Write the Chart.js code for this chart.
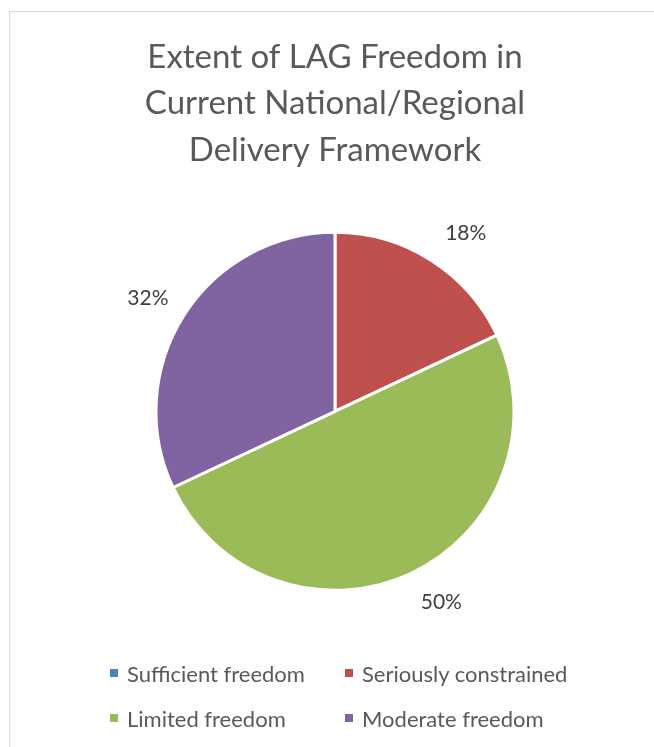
<!DOCTYPE html>
<html>
<head>
<meta charset="utf-8">
<script src="https://cdn.jsdelivr.net/npm/chart.js@4"></script>
<style>
    body { margin: 0; background: #fff; }
    #wrap { position: relative; width: 654px; height: 747px; overflow: hidden; }
    #frame { position: absolute; left: 9px; top: 11px; width: 700px; height: 800px; border-left: 1px solid #d9d9d9; border-top: 1px solid #d9d9d9; }
    canvas { position: absolute; left: 0; top: 0; }
    #legend { position: absolute; left: 110px; top: 659px; display: grid; grid-template-columns: 235px auto; row-gap: 17px; font-family: Lato, sans-serif; font-size: 22px; color: #595959; }
    .item { display: flex; align-items: center; height: 28px; }
    .box { width: 8px; height: 8px; margin-right: 9px; }
</style>
</head>
<body>
<div id="wrap">
    <div id="frame"></div>
    <canvas id="chart" width="654" height="747"></canvas>
    <div id="legend"></div>
</div>
<script>
// Chart data
const categories = ['Sufficient freedom', 'Seriously constrained', 'Limited freedom', 'Moderate freedom'];
const shares = [0, 18, 50, 32];
const colors = ['#4f81bd', '#c0504d', '#9bbb59', '#8064a2'];
const titleLines = ['Extent of LAG Freedom in', 'Current National/Regional', 'Delivery Framework'];

// Percent labels just outside the slices (box edge placed next to the arc)
const outsideLabels = {
    id: 'outsideLabels',
    afterDatasetsDraw(chart) {
        const ctx = chart.ctx;
        const meta = chart.getDatasetMeta(0);
        ctx.save();
        ctx.font = '21px Lato';
        ctx.fillStyle = '#404040';
        ctx.textAlign = 'center';
        ctx.textBaseline = 'middle';
        meta.data.forEach((arc, i) => {
            if (!shares[i]) return;
            const text = shares[i] + '%';
            const w = ctx.measureText(text).width;
            const h = 20;
            const mid = (arc.startAngle + arc.endAngle) / 2;
            const cos = Math.cos(mid), sin = Math.sin(mid);
            const r = arc.outerRadius + 22;
            // labels on the right side sit a little further out
            const nudge = cos > 0 ? 12 : 0;
            const x = arc.x + cos * r + cos * w / 2 + nudge;
            const y = arc.y + sin * r + sin * h / 2;
            ctx.fillText(text, x, y);
        });
        ctx.restore();
    }
};

new Chart(document.getElementById('chart'), {
    type: 'pie',
    data: {
        labels: categories,
        datasets: [{
            data: shares,
            backgroundColor: colors,
            borderColor: '#ffffff',
            borderWidth: 3,
            radius: 179
        }]
    },
    options: {
        responsive: false,
        animation: false,
        layout: { padding: { left: 16, top: 0, right: 0, bottom: 98 } },
        plugins: {
            legend: { display: false },
            tooltip: { enabled: false },
            title: {
                display: true,
                text: titleLines,
                color: '#595959',
                font: { family: 'Lato', size: 33, weight: 'normal', lineHeight: 1.41 },
                padding: { top: 34, bottom: 0 }
            }
        }
    },
    plugins: [outsideLabels]
});

// Legend in two columns
document.getElementById('legend').innerHTML = categories.map((name, i) => `
    <div class="item"><span class="box" style="background:${colors[i]}"></span>${name}</div>
`).join('');
</script>
</body>
</html>
